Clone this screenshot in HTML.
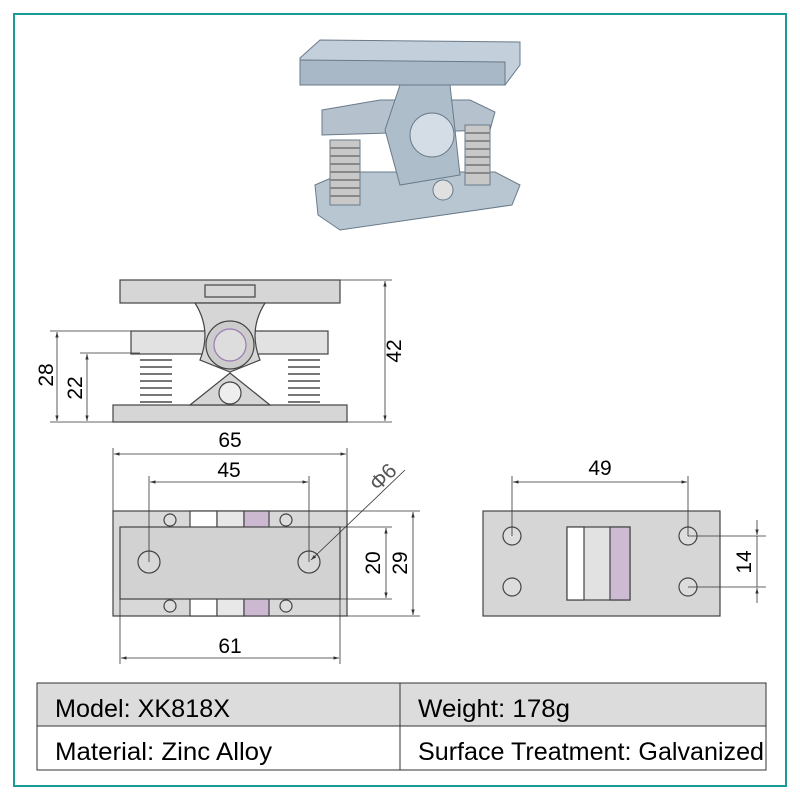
<!DOCTYPE html>
<html><head><meta charset="utf-8"><style>body{margin:0;background:#fff}svg{display:block}text{font-family:"Liberation Sans",sans-serif}</style></head><body>
<svg width="800" height="800" viewBox="0 0 800 800" xmlns="http://www.w3.org/2000/svg">
<defs><marker id="a" viewBox="0 0 10 10" refX="10" refY="5" markerWidth="7" markerHeight="7" orient="auto-start-reverse"><path d="M0,2L10,5L0,8z" fill="#333"/></marker></defs>
<rect x="14" y="14" width="772" height="772" fill="#fff" stroke="#1a9a94" stroke-width="2"/>
<!-- photo -->
<g stroke="#6a7a8a" stroke-width="1">
<polygon points="315,185 345,172 495,172 520,185 512,205 340,230 318,215" fill="#b8c6d2"/>
<polygon points="300,58 320,40 520,42 520,65 505,85 300,85" fill="#c3cfda"/>
<polygon points="300,60 505,62 505,85 300,85" fill="#a9b8c6"/>
<polygon points="322,110 380,100 470,100 495,112 490,130 322,135" fill="#b5c2ce"/>
<polygon points="400,85 450,85 460,175 400,185 385,130" fill="#aebdca"/>
<circle cx="432" cy="135" r="22" fill="#d4dde6"/>
<rect x="330" y="140" width="30" height="65" fill="#c8c8c8"/>
<rect x="465" y="125" width="25" height="60" fill="#c8c8c8"/>
<circle cx="443" cy="190" r="10" fill="#e0e0e0"/>
</g>
<g stroke="#888" stroke-width="2"><path d="M330,148h30M330,156h30M330,164h30M330,172h30M330,180h30M330,188h30M330,196h30M465,133h25M465,141h25M465,149h25M465,157h25M465,165h25M465,173h25"/></g>
<!-- side view -->
<g stroke="#444" stroke-width="1.2" fill="#d6d6d6">
<rect x="120" y="280" width="220" height="23"/>
<rect x="205" y="285" width="50" height="12"/>
<rect x="131" y="331" width="197" height="23" fill="#e2e2e2"/>
<rect x="113" y="405" width="234" height="17"/>
<path d="M195,303 Q212,330 200,360 L230,372 L260,360 Q248,330 265,303z"/>
<polygon points="190,405 230,373 270,405" />
<circle cx="230" cy="345" r="24" fill="#ccc"/>
<circle cx="230" cy="345" r="16" fill="#ddd" stroke="#9a7ab0"/>
<circle cx="230" cy="393" r="11" fill="#eee"/>
</g>
<g stroke="#777" stroke-width="2" fill="none">
<path d="M140,360h32M140,367h32M140,374h32M140,381h32M140,388h32M140,395h32M140,402h32"/>
<path d="M288,360h32M288,367h32M288,374h32M288,381h32M288,388h32M288,395h32M288,402h32"/>
</g>
<g stroke="#333" stroke-width="0.8" fill="none">
<line x1="340" y1="280" x2="392" y2="280"/><line x1="347" y1="422" x2="392" y2="422"/>
<line x1="385" y1="281" x2="385" y2="421" marker-start="url(#a)" marker-end="url(#a)"/>
<line x1="50" y1="331" x2="131" y2="331"/><line x1="50" y1="422" x2="113" y2="422"/>
<line x1="57" y1="332" x2="57" y2="421" marker-start="url(#a)" marker-end="url(#a)"/>
<line x1="80" y1="353" x2="140" y2="353"/>
<line x1="87" y1="354" x2="87" y2="421" marker-start="url(#a)" marker-end="url(#a)"/>
</g>
<text font-size="21" transform="translate(401,351) rotate(-90)" text-anchor="middle">42</text>
<text font-size="21" transform="translate(53,375) rotate(-90)" text-anchor="middle">28</text>
<text font-size="21" transform="translate(82,388) rotate(-90)" text-anchor="middle">22</text>
<!-- bottom-left view -->
<g stroke="#444" stroke-width="1.2">
<rect x="113" y="511" width="234" height="105" fill="#d8d8d8"/>
<rect x="190" y="511" width="27" height="105" fill="#fff"/>
<rect x="217" y="511" width="27" height="105" fill="#e8e8e8"/>
<rect x="244" y="511" width="25" height="105" fill="#cdb8d2"/>
<rect x="120" y="527" width="220" height="72" fill="#d2d2d2"/>
<circle cx="149" cy="562" r="11" fill="#d8d8d8"/><circle cx="309" cy="562" r="11" fill="#d8d8d8"/>
<circle cx="170" cy="520" r="6" fill="#ddd"/><circle cx="286" cy="520" r="6" fill="#ddd"/>
<circle cx="170" cy="606" r="6" fill="#ddd"/><circle cx="286" cy="606" r="6" fill="#ddd"/>
</g>
<g stroke="#333" stroke-width="0.8" fill="none">
<line x1="113" y1="448" x2="113" y2="511"/><line x1="347" y1="448" x2="347" y2="511"/>
<line x1="114" y1="454" x2="346" y2="454" marker-start="url(#a)" marker-end="url(#a)"/>
<line x1="149" y1="476" x2="149" y2="562"/><line x1="309" y1="476" x2="309" y2="562"/>
<line x1="150" y1="482" x2="308" y2="482" marker-start="url(#a)" marker-end="url(#a)"/>
<line x1="120" y1="599" x2="120" y2="664"/><line x1="340" y1="599" x2="340" y2="664"/>
<line x1="121" y1="658" x2="339" y2="658" marker-start="url(#a)" marker-end="url(#a)"/>
<line x1="340" y1="527" x2="392" y2="527"/><line x1="340" y1="599" x2="392" y2="599"/>
<line x1="386" y1="528" x2="386" y2="598" marker-start="url(#a)" marker-end="url(#a)"/>
<line x1="347" y1="511" x2="420" y2="511"/><line x1="347" y1="616" x2="420" y2="616"/>
<line x1="413" y1="512" x2="413" y2="615" marker-start="url(#a)" marker-end="url(#a)"/>
<line x1="405" y1="470" x2="311" y2="560" marker-end="url(#a)"/>
</g>
<text x="230" y="447" font-size="21" text-anchor="middle">65</text>
<text x="229" y="477" font-size="21" text-anchor="middle">45</text>
<text x="230" y="653" font-size="21" text-anchor="middle">61</text>
<text font-size="21" transform="translate(380,563) rotate(-90)" text-anchor="middle">20</text>
<text font-size="21" transform="translate(407,563) rotate(-90)" text-anchor="middle">29</text>
<text font-size="21" transform="translate(388,482) rotate(-45)" text-anchor="middle" fill="#555">Φ6</text>
<!-- right view -->
<g stroke="#444" stroke-width="1.2">
<rect x="483" y="511" width="237" height="105" fill="#d6d6d6"/>
<rect x="567" y="527" width="63" height="73" fill="#e2e2e2"/>
<rect x="567" y="527" width="17" height="73" fill="#fff"/>
<rect x="610" y="527" width="20" height="73" fill="#cdbbd4"/>
<circle cx="512" cy="536" r="9" fill="#ddd"/><circle cx="512" cy="587" r="9" fill="#ddd"/>
<circle cx="688" cy="536" r="9" fill="#ddd"/><circle cx="688" cy="587" r="9" fill="#ddd"/>
</g>
<g stroke="#333" stroke-width="0.8" fill="none">
<line x1="512" y1="476" x2="512" y2="536"/><line x1="688" y1="476" x2="688" y2="536"/>
<line x1="513" y1="482" x2="687" y2="482" marker-start="url(#a)" marker-end="url(#a)"/>
<line x1="688" y1="536" x2="766" y2="536"/><line x1="688" y1="587" x2="766" y2="587"/>
<line x1="757" y1="520" x2="757" y2="535" marker-end="url(#a)"/><line x1="757" y1="603" x2="757" y2="588" marker-end="url(#a)"/>
<line x1="757" y1="536" x2="757" y2="587"/>
</g>
<text x="600" y="475" font-size="21" text-anchor="middle">49</text>
<text font-size="21" transform="translate(751,562) rotate(-90)" text-anchor="middle">14</text>
<!-- table -->
<rect x="37" y="683" width="729" height="43" fill="#dcdcdc" stroke="#333"/>
<rect x="37" y="726" width="729" height="44" fill="#fff" stroke="#333"/>
<line x1="400" y1="683" x2="400" y2="770" stroke="#333"/>
<text x="55" y="717" font-size="25" textLength="175" lengthAdjust="spacingAndGlyphs">Model: XK818X</text>
<text x="418" y="717" font-size="25" textLength="152" lengthAdjust="spacingAndGlyphs">Weight: 178g</text>
<text x="55" y="760" font-size="25" textLength="217" lengthAdjust="spacingAndGlyphs">Material: Zinc Alloy</text>
<text x="418" y="760" font-size="25" textLength="346" lengthAdjust="spacingAndGlyphs">Surface Treatment: Galvanized</text>
</svg>
</body></html>
